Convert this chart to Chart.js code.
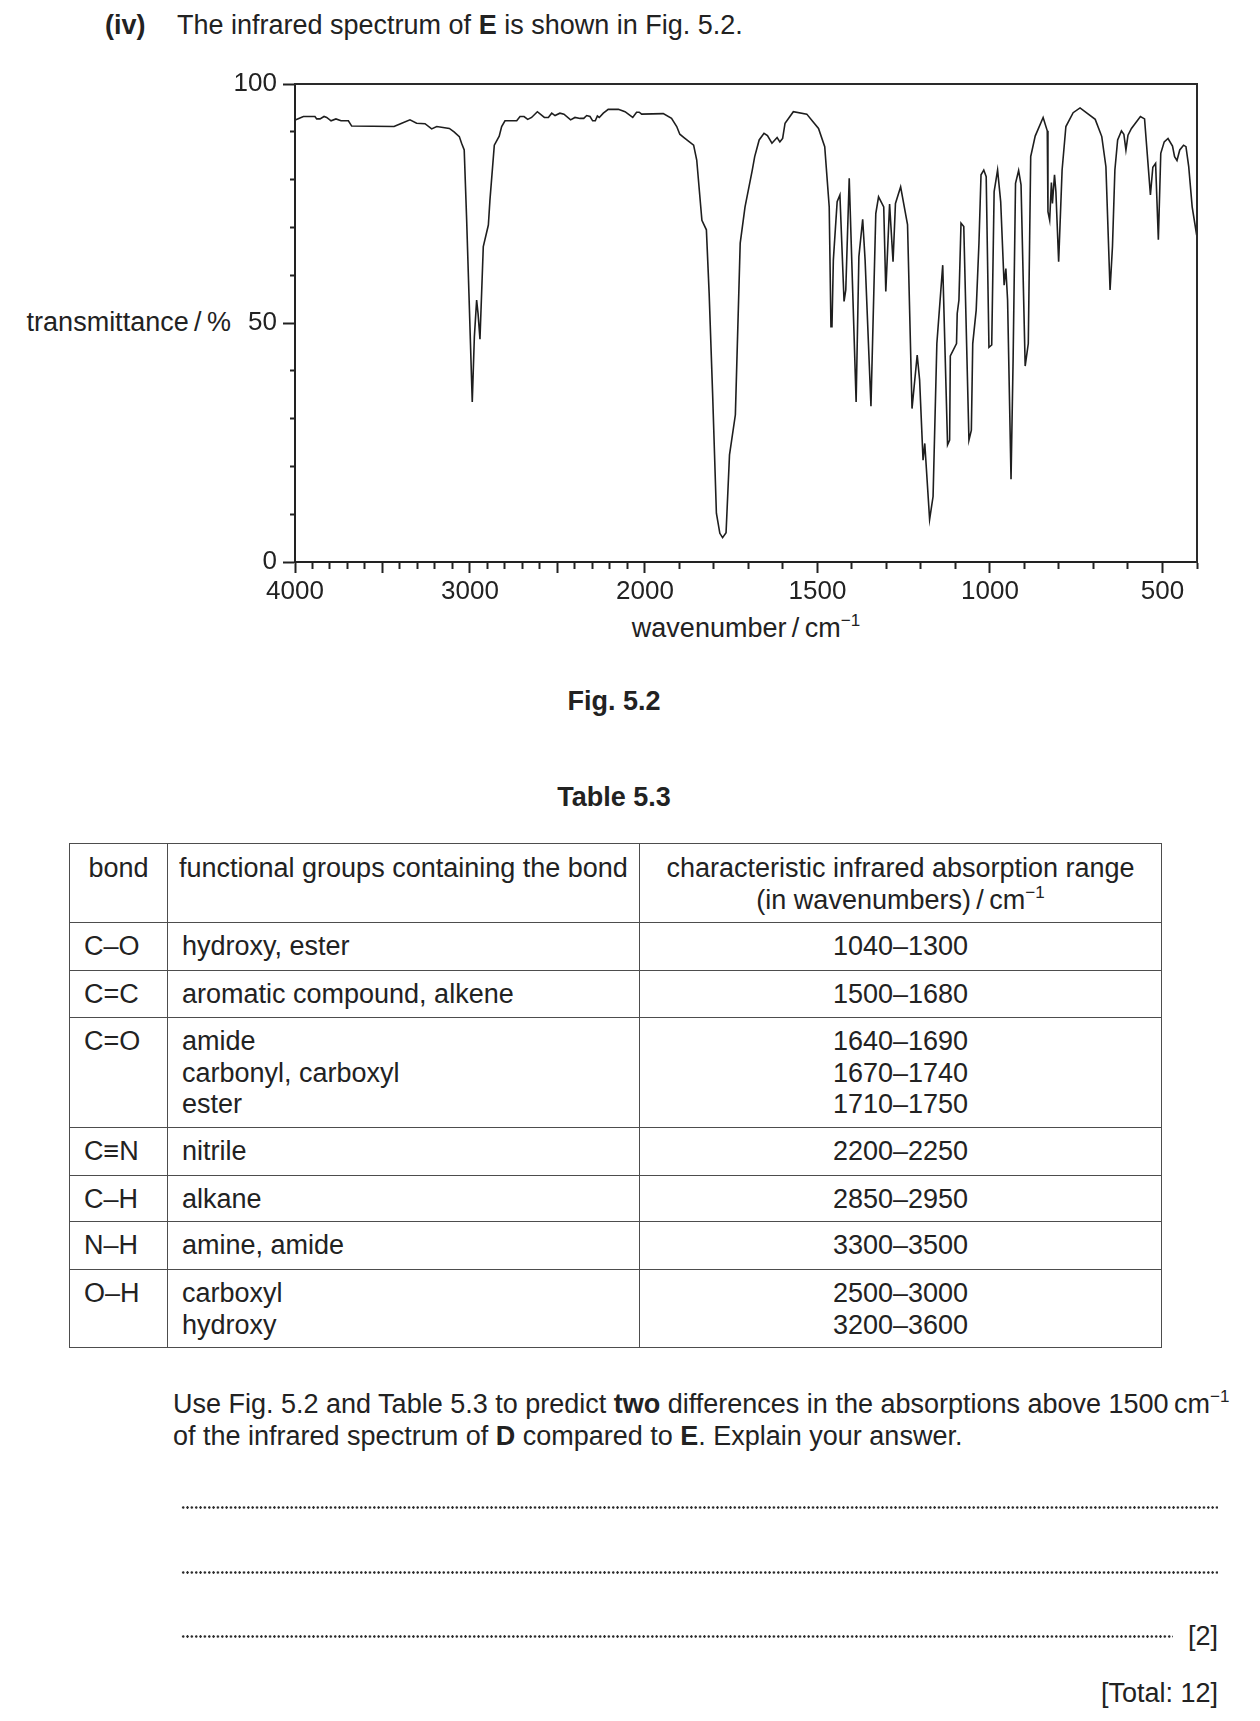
<!DOCTYPE html>
<html>
<head>
<meta charset="utf-8">
<script src="https://cdn.jsdelivr.net/npm/chart.js@4.4.1/dist/chart.umd.min.js"></script>
<style>
html,body{margin:0;padding:0;background:#fff;}
body{width:1260px;height:1721px;position:relative;overflow:hidden;font-family:'Liberation Sans',Arial,Helvetica,sans-serif;color:#222;font-size:27px;}
.t{position:absolute;white-space:nowrap;line-height:32px;}
sup{font-size:17px;line-height:0;vertical-align:11px;}
#chartwrap{position:absolute;left:235px;top:60px;width:985px;height:550px;}
#tbl{position:absolute;left:69px;top:843px;border-collapse:collapse;table-layout:fixed;width:1092px;}
#tbl td{border:1.6px solid #4d4d4d;vertical-align:top;padding:8px 0 0 14px;line-height:31.5px;white-space:nowrap;}
#tbl tr.h td{text-align:center;padding:9px 0 0 0;}
#tbl tr.h td.l{text-align:left;padding-left:11px;}
#tbl td.c{text-align:center;padding-left:0;}
.dots{position:absolute;height:3px;background-image:radial-gradient(circle,#2e2e2e 1px,transparent 1.45px);background-size:4.35px 3px;background-repeat:repeat-x;}
</style>
</head>
<body>
<div class="t" style="left:105px;top:9px;"><b>(iv)</b></div>
<div class="t" style="left:177px;top:9px;">The infrared spectrum of <b>E</b> is shown in Fig. 5.2.</div>

<div class="t" style="right:1029px;top:306px;">transmittance&#8201;/&#8201;%</div>
<div id="chartwrap"><canvas id="c" width="985" height="550" style="width:985px;height:550px;"></canvas></div>
<div class="t" style="left:295px;width:902px;top:612px;text-align:center;">wavenumber&#8201;/&#8201;cm<sup>&minus;1</sup></div>

<div class="t" style="left:0;width:1228px;top:685px;text-align:center;"><b>Fig. 5.2</b></div>
<div class="t" style="left:0;width:1228px;top:781px;text-align:center;"><b>Table 5.3</b></div>

<table id="tbl">
<colgroup><col style="width:98px"><col style="width:472px"><col style="width:522px"></colgroup>
<tr class="h" style="height:79px"><td>bond</td><td class="l">functional groups containing the bond</td><td>characteristic infrared absorption range<br>(in wavenumbers)&#8201;/&#8201;cm<sup>&minus;1</sup></td></tr>
<tr style="height:48px"><td>C–O</td><td>hydroxy, ester</td><td class="c">1040–1300</td></tr>
<tr style="height:47px"><td>C=C</td><td>aromatic compound, alkene</td><td class="c">1500–1680</td></tr>
<tr style="height:110px"><td>C=O</td><td>amide<br>carbonyl, carboxyl<br>ester</td><td class="c">1640–1690<br>1670–1740<br>1710–1750</td></tr>
<tr style="height:48px"><td>C≡N</td><td>nitrile</td><td class="c">2200–2250</td></tr>
<tr style="height:46px"><td>C–H</td><td>alkane</td><td class="c">2850–2950</td></tr>
<tr style="height:48px"><td>N–H</td><td>amine, amide</td><td class="c">3300–3500</td></tr>
<tr style="height:78px"><td>O–H</td><td>carboxyl<br>hydroxy</td><td class="c">2500–3000<br>3200–3600</td></tr>
</table>

<div class="t" style="left:173px;top:1388px;line-height:32px;">Use Fig. 5.2 and Table 5.3 to predict <b>two</b> differences in the absorptions above 1500&#8201;cm<sup>&minus;1</sup><br>of the infrared spectrum of <b>D</b> compared to <b>E</b>. Explain your answer.</div>

<div class="dots" style="left:181px;width:1037px;top:1506px;"></div>
<div class="dots" style="left:181px;width:1037px;top:1571px;"></div>
<div class="dots" style="left:181px;width:992px;top:1635px;"></div>
<div class="t" style="right:42px;top:1620px;">[2]</div>
<div class="t" style="right:42px;top:1677px;">[Total: 12]</div>

<script>
// ---- data ----
const wavenumbers = [
  3995,3952,3886,3876,3857,3834,3819,3794,3766,3737,3695,3676,3434,3390,3343,3305,3257,3219,3190,3118,
  3091,3061,3048,3033,3019,3006,2987,2975,2962,2954,2943,2924,2895,2886,2861,2833,2819,2800,2733,2714,
  2691,2670,2648,2615,2575,2552,2533,2514,2486,2463,2425,2400,2371,2350,2333,2314,2299,2284,2272,2261,
  2238,2210,2152,2114,2070,2048,2033,2019,1947,1923,1908,1899,1887,1859,1850,1835,1822,1814,1804,1793,
  1783,1775,1765,1755,1738,1724,1710,1689,1682,1669,1655,1645,1632,1617,1609,1601,1594,1570,1531,1513,
  1497,1479,1466,1461,1458,1454,1443,1435,1423,1418,1408,1388,1380,1369,1362,1345,1331,1323,1308,1302,
  1291,1281,1274,1259,1239,1226,1211,1204,1194,1189,1175,1165,1154,1137,1123,1117,1115,1097,1095,1090,
  1084,1076,1061,1054,1050,1040,1032,1026,1018,1011,1003,995,988,978,969,959,954,949,939,933,
  926,917,910,898,889,882,869,846,834,832,827,822,819,813,809,801,791,780,759,739,
  695,676,664,652,645,638,630,619,612,606,600,590,564,552,535,528,520,512,505,495,
  484,471,465,458,450,439,432,424,414,401
];
const transmittance = [
  92.5,93.2,93.2,92.7,92.7,93.2,93.0,92.3,92.7,92.3,92.3,91.2,91.1,91.8,92.5,91.8,91.7,90.6,91.1,90.7,
  90.0,89.0,87.6,86.2,71.5,56.2,33.5,47.1,54.8,52.0,46.6,66.0,70.5,75.7,87.2,89.1,91.1,92.3,92.3,93.2,
  93.2,92.6,93.0,94.2,93.0,93.0,93.9,93.4,93.9,93.7,92.5,93.0,92.8,92.8,93.4,93.2,92.3,92.3,93.3,93.0,
  93.9,94.7,94.7,94.2,93.0,94.1,94.1,93.7,93.8,92.8,91.1,89.5,88.8,87.2,84.1,71.5,69.5,56.2,35.3,10.2,
  6.0,5.1,6.1,22.4,30.8,66.7,74.3,82.0,84.8,88.3,89.7,89.2,87.6,88.8,87.9,88.6,91.8,94.2,93.7,92.1,
  90.7,86.9,74.3,49.2,49.2,63.2,75.4,76.8,54.5,56.9,80.3,33.5,63.9,71.7,63.2,32.6,72.9,76.4,74.3,56.6,
  74.9,62.8,75.0,78.5,70.6,32.1,43.3,38.1,21.3,24.8,8.9,13.7,45.7,62.1,24.5,25.5,43.1,45.7,52.0,54.8,
  70.9,70.2,25.5,27.6,45.7,52.7,66.7,81.0,82.0,80.6,44.9,45.4,77.5,82.0,75.4,57.9,61.4,54.8,17.3,42.3,
  79.2,81.9,78.9,41.0,45.7,84.8,89.1,93.0,90.2,73.3,71.5,79.4,75.0,81.0,77.5,62.8,82.0,91.1,94.0,95.0,
  92.6,89.0,82.7,56.9,66.0,82.0,88.3,90.2,89.5,86.2,89.3,90.7,93.2,92.7,76.8,82.6,83.4,67.4,85.5,87.9,
  88.6,87.0,84.8,84.0,86.2,87.2,86.9,82.7,74.3,68.4
];
const xTickLabels = [4000, 3000, 2000, 1500, 1000, 500];
const yTickLabels = [0, 50, 100];
const xMajorTicks = [4000, 3500, 3000, 2500, 2000, 1500, 1000, 500];
const yMajorTicks = [0, 50, 100];

// ---- IR wavenumber axis: 4000..2000 compressed, 2000..400 expanded ----
const X_MAX = 4000, X_BREAK = 2000, X_MIN = 400, BREAK_FRAC = 0.388;

class IRScale extends Chart.LinearScale {
  getPixelForValue(v) {
    if (v === null || v === undefined || isNaN(v)) return NaN;
    const t = v >= X_BREAK
      ? (X_MAX - v) / (X_MAX - X_BREAK) * BREAK_FRAC
      : BREAK_FRAC + (X_BREAK - v) / (X_BREAK - X_MIN) * (1 - BREAK_FRAC);
    return this.getPixelForDecimal(t);
  }
  getValueForPixel(p) {
    const t = this.getDecimalForPixel(p);
    return t <= BREAK_FRAC
      ? X_MAX - t / BREAK_FRAC * (X_MAX - X_BREAK)
      : X_BREAK - (t - BREAK_FRAC) / (1 - BREAK_FRAC) * (X_BREAK - X_MIN);
  }
  _computeGridLineItems(chartArea) {
    const items = super._computeGridLineItems(chartArea);
    for (const it of items) {
      const v = Math.round(this.getValueForPixel(it.tx1) / 100) * 100;
      if (!xMajorTicks.includes(v)) it.ty2 = this.top + 7;
    }
    return items;
  }
}
IRScale.id = 'irscale';
IRScale.defaults = Chart.LinearScale.defaults;

class TickYScale extends Chart.LinearScale {
  _computeGridLineItems(chartArea) {
    const items = super._computeGridLineItems(chartArea);
    for (const it of items) {
      const v = Math.round(this.getValueForPixel(it.ty1));
      if (!yMajorTicks.includes(v)) it.tx1 = it.tx2 - 4;
    }
    return items;
  }
}
TickYScale.id = 'tickyscale';
TickYScale.defaults = Chart.LinearScale.defaults;

Chart.register(IRScale, TickYScale);

const framePlugin = {
  id: 'frame',
  afterDraw(chart) {
    const {ctx, chartArea: a} = chart;
    ctx.save();
    ctx.strokeStyle = '#2a2a2a';
    ctx.lineWidth = 2;
    ctx.beginPath();
    ctx.moveTo(a.left - 1, a.top);
    ctx.lineTo(a.right, a.top);
    ctx.lineTo(a.right, a.bottom + 1);
    ctx.stroke();
    ctx.restore();
  }
};

const points = wavenumbers.map((w, i) => ({x: w, y: transmittance[i]}));
const tickFont = {family: "'Liberation Sans', Arial, sans-serif", size: 26};

new Chart(document.getElementById('c'), {
  type: 'line',
  data: {
    datasets: [{
      data: points,
      borderColor: '#1e1e1e',
      borderWidth: 1.6,
      pointRadius: 0,
      tension: 0,
      fill: false
    }]
  },
  options: {
    responsive: false,
    animation: false,
    events: [],
    layout: {padding: {top: 24, right: 23, left: 0, bottom: 0}},
    plugins: {legend: {display: false}, tooltip: {enabled: false}, title: {display: false}},
    scales: {
      x: {
        type: 'irscale',
        position: 'bottom',
        min: X_MIN, max: X_MAX,
        afterFit: s => { s.height = 48; },
        ticks: {
          stepSize: 100,
          autoSkip: false,
          maxRotation: 0, minRotation: 0,
          padding: 3,
          color: '#222',
          font: tickFont,
          callback: v => xTickLabels.includes(v) ? String(v) : ''
        },
        grid: {drawOnChartArea: false, drawTicks: true, tickLength: 11, tickWidth: 2, tickColor: '#222'},
        border: {display: true, color: '#222', width: 2}
      },
      y: {
        type: 'tickyscale',
        position: 'left',
        min: 0, max: 100,
        afterFit: s => { s.width = 60; },
        ticks: {
          stepSize: 10,
          autoSkip: false,
          padding: 6,
          color: '#222',
          font: tickFont,
          callback: v => yTickLabels.includes(v) ? String(v) : ''
        },
        grid: {drawOnChartArea: false, drawTicks: true, tickLength: 12, tickWidth: 2, tickColor: '#222'},
        border: {display: true, color: '#222', width: 2}
      }
    }
  },
  plugins: [framePlugin]
});
</script>
</body>
</html>
